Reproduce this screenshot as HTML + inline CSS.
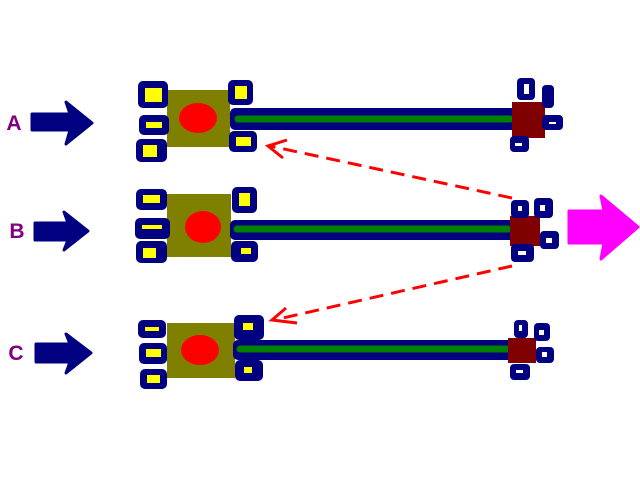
<!DOCTYPE html><html><head><style>body{margin:0;background:#fff}svg{display:block}</style></head><body>
<svg width="640" height="480" xmlns="http://www.w3.org/2000/svg" font-family="Liberation Sans, sans-serif">
<g fill="#800080" font-size="21" font-weight="bold" text-anchor="middle">
<text x="14" y="130">A</text><text x="17" y="238">B</text><text x="16" y="360">C</text></g>
<g fill="#000080" stroke="#000080" stroke-linejoin="round" stroke-linecap="round">
<path d="M32 114 H70 L66 102 L92 123 L66 144 L70 130 H32 Z" stroke-width="3"/>
<path d="M35 223 H68 L64 212 L88 231 L64 250 L68 240 H35 Z" stroke-width="3"/>
<path d="M36 344 H70 L66 334 L91 353 L66 373 L70 362 H36 Z" stroke-width="3"/>
</g>
<path d="M569 211 H604 L601 196 L638 227 L601 259 L604 243 H569 Z" fill="#ff00ff" stroke="#ff00ff" stroke-width="3" stroke-linejoin="round"/>
<g stroke="#ff0000" stroke-width="3" fill="none" stroke-dasharray="14,8">
<path d="M512 198 L270 146"/><path d="M512 266 L274 320"/></g>
<g stroke="#ff0000" stroke-width="3" fill="none">
<path d="M287 140 L268 146 L283 158"/><path d="M286 308 L272 320 L297 323"/></g>
<!-- A -->
<rect x="167" y="90" width="63" height="57" fill="#808000"/>
<ellipse cx="198" cy="118" rx="19" ry="15" fill="#f00"/>
<rect x="230" y="108" width="290" height="22" rx="5" fill="#000080"/>
<path d="M238 119 H510" stroke="#008000" stroke-width="7" stroke-linecap="round"/>
<rect x="512" y="102" width="33" height="36" fill="#800000"/>
<!-- B -->
<rect x="167" y="194" width="64" height="63" fill="#808000"/>
<ellipse cx="203" cy="227" rx="18" ry="16" fill="#f00"/>
<rect x="230" y="220" width="285" height="20" rx="5" fill="#000080"/>
<path d="M237 229 H508" stroke="#008000" stroke-width="7" stroke-linecap="round"/>
<rect x="510" y="216" width="30" height="30" fill="#800000"/>
<!-- C -->
<rect x="167" y="323" width="68" height="55" fill="#808000"/>
<ellipse cx="200" cy="350" rx="19" ry="15" fill="#f00"/>
<rect x="233" y="340" width="280" height="20" rx="5" fill="#000080"/>
<path d="M240 349 H508" stroke="#008000" stroke-width="7" stroke-linecap="round"/>
<rect x="508" y="338" width="28" height="25" fill="#800000"/>
<g fill="#000080">
<rect x="138" y="81" width="30" height="27" rx="5"/><rect x="139" y="115" width="30" height="20" rx="5"/><rect x="136" y="139" width="31" height="23" rx="5"/>
<rect x="228" y="80" width="25" height="25" rx="5"/><rect x="229" y="131" width="28" height="21" rx="5"/>
<rect x="517" y="78" width="18" height="22" rx="4"/><rect x="542" y="85" width="12" height="23" rx="4"/><rect x="542" y="115" width="21" height="15" rx="4"/><rect x="510" y="136" width="19" height="16" rx="4"/>
<rect x="136" y="189" width="31" height="21" rx="5"/><rect x="135" y="218" width="35" height="21" rx="5"/><rect x="136" y="241" width="31" height="22" rx="5"/>
<rect x="232" y="187" width="25" height="26" rx="5"/><rect x="231" y="241" width="27" height="21" rx="5"/>
<rect x="511" y="200" width="18" height="18" rx="4"/><rect x="534" y="198" width="19" height="20" rx="4"/><rect x="540" y="231" width="19" height="18" rx="4"/><rect x="511" y="244" width="23" height="18" rx="4"/>
<rect x="138" y="320" width="28" height="18" rx="5"/><rect x="139" y="343" width="28" height="21" rx="5"/><rect x="140" y="369" width="27" height="20" rx="5"/>
<rect x="234" y="315" width="30" height="25" rx="5"/><rect x="235" y="360" width="28" height="21" rx="5"/>
<rect x="514" y="320" width="14" height="18" rx="4"/><rect x="534" y="323" width="16" height="18" rx="4"/><rect x="536" y="347" width="18" height="16" rx="4"/><rect x="510" y="364" width="20" height="16" rx="4"/>
</g>
<g fill="#ff0">
<rect x="145" y="88" width="17" height="14"/><rect x="146" y="122" width="16" height="6"/><rect x="143" y="145" width="14" height="12"/>
<rect x="235" y="86" width="12" height="13"/><rect x="236" y="137" width="15" height="9"/>
<rect x="143" y="195" width="17" height="8"/><rect x="142" y="225" width="20" height="4"/><rect x="143" y="248" width="13" height="10"/>
<rect x="239" y="193" width="11" height="13"/><rect x="241" y="248" width="10" height="6"/>
<rect x="145" y="327" width="14" height="4"/><rect x="146" y="349" width="15" height="8"/><rect x="147" y="375" width="13" height="8"/>
<rect x="243" y="323" width="10" height="7"/><rect x="244" y="367" width="8" height="6"/>
</g>
<g fill="#fff">
<rect x="524" y="84" width="5" height="10"/><rect x="549" y="122" width="7" height="2"/><rect x="515" y="143" width="7" height="3"/>
<rect x="518" y="206" width="4" height="5"/><rect x="540" y="205" width="5" height="6"/><rect x="546" y="238" width="6" height="5"/><rect x="518" y="251" width="8" height="4"/>
<rect x="519" y="325" width="3" height="6"/><rect x="539" y="330" width="5" height="5"/><rect x="542" y="352" width="5" height="5"/><rect x="516" y="370" width="7" height="3"/>
</g>
</svg></body></html>
